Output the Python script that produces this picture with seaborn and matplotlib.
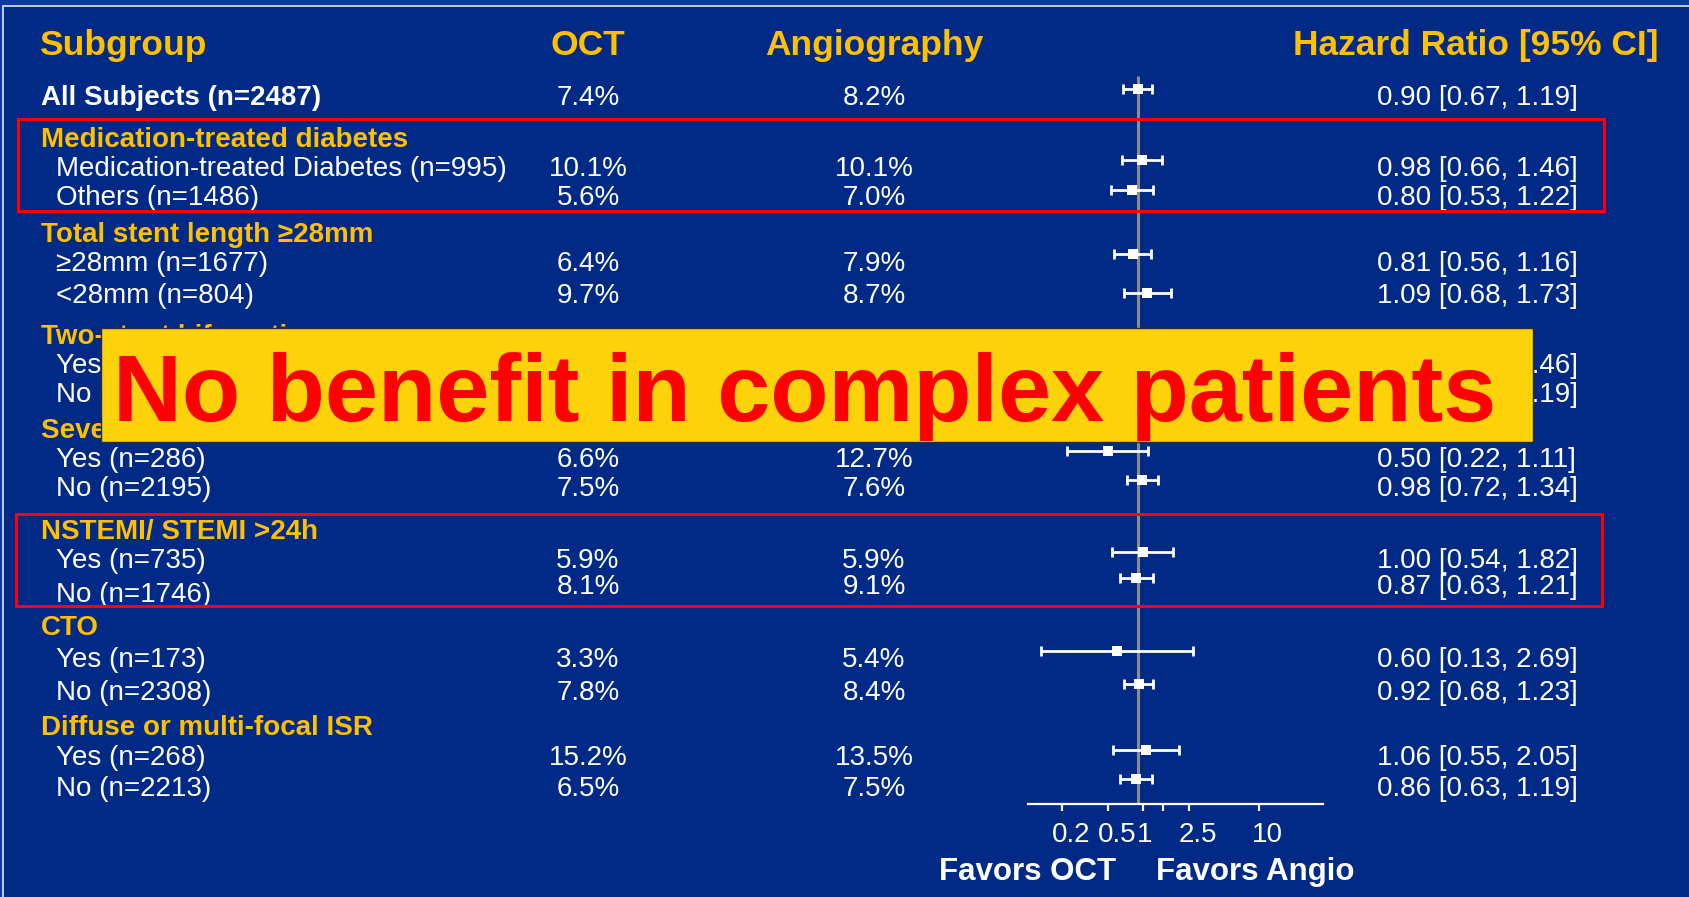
import matplotlib
matplotlib.use("Agg")
import matplotlib.pyplot as plt
from matplotlib.patches import Rectangle
from matplotlib.transforms import ScaledTranslation
import numpy as np
import pandas as pd
import seaborn as sns

# ---- values (two-stent rows are hidden under the banner, estimated) ----
group_names = ["Medication-treated diabetes", "Total stent length \u226528mm", "Two-stent bifurcation",
               "Severe calcification", "NSTEMI/ STEMI >24h", "CTO", "Diffuse or multi-focal ISR"]
row_names = ["All Subjects (n=2487)",
             "Medication-treated Diabetes (n=995)", "Others (n=1486)",
             "\u226528mm (n=1677)", "<28mm (n=804)",
             "Yes (n=236)", "No (n=2245)",
             "Yes (n=286)", "No (n=2195)",
             "Yes (n=735)", "No (n=1746)",
             "Yes (n=173)", "No (n=2308)",
             "Yes (n=268)", "No (n=2213)"]
oct_rate = [7.4, 10.1, 5.6, 6.4, 9.7, 6.9, 7.5, 6.6, 7.5, 5.9, 8.1, 3.3, 7.8, 15.2, 6.5]
angio_rate = [8.2, 10.1, 7.0, 7.9, 8.7, 8.0, 8.2, 12.7, 7.6, 5.9, 9.1, 5.4, 8.4, 13.5, 7.5]
hr = [0.90, 0.98, 0.80, 0.81, 1.09, 0.84, 0.91, 0.50, 0.98, 1.00, 0.87, 0.60, 0.92, 1.06, 0.86]
hr_lo = [0.67, 0.66, 0.53, 0.56, 0.68, 0.48, 0.69, 0.22, 0.72, 0.54, 0.63, 0.13, 0.68, 0.55, 0.63]
hr_hi = [1.19, 1.46, 1.22, 1.16, 1.73, 1.46, 1.19, 1.11, 1.34, 1.82, 1.21, 2.69, 1.23, 2.05, 1.19]
overall_hr = 0.90
x_ticks = [0.2, 0.5, 1, 1.5, 2.5, 10]
x_tick_labels = ["0.2", "0.5", "1", "", "2.5", "10"]

# ---- layout (pixel rows of the slide) ----
W, H = 1690, 897
group_y = [147, 242, 344, 438, 539, 635, 735]
label_y = [105, 176, 205, 271, 303, 373, 402, 467, 496, 568, 602, 667, 700, 765, 796]
value_y = [105, 176, 205, 271, 303, 373, 402, 467, 496, 568, 594, 667, 700, 765, 796]
mark_y = [89, 160, 190, 254, 293, 358, 388, 451, 480, 552, 578, 651, 684, 750, 779]
tick_shift_px = [9, 9, 2, 0, 9, 9]

BG = "#002A86"
GOLD = "#FFC000"

sns.set_theme(style="white")
plt.rcParams["font.family"] = ["Liberation Sans", "DejaVu Sans"]

fig = plt.figure(figsize=(W / 100, H / 100), dpi=100, facecolor="#0A3AA2")

# text layer in pixel coordinates
bg = fig.add_axes([0, 0, 1, 1])
bg.set_xlim(0, W)
bg.set_ylim(H, 0)
bg.axis("off")
bg.add_patch(Rectangle((3.5, 6), W, H, facecolor=BG, edgecolor="#C4CCE0", lw=1.4))

hdr = dict(color=GOLD, fontsize=25.5, fontweight="bold", va="baseline")
bg.text(39, 55, "Subgroup", ha="left", **hdr)
bg.text(588, 55, "OCT", ha="center", **hdr)
bg.text(874, 55, "Angiography", ha="center", **hdr)
bg.text(1476, 55, "Hazard Ratio [95% CI]", ha="center", **hdr)

for name, y in zip(group_names, group_y):
    bg.text(41, y, name, color=GOLD, fontsize=20, fontweight="bold", va="baseline")

for i, name in enumerate(row_names):
    first = i == 0
    bg.text(41 if first else 56, label_y[i], name, color="white", fontsize=20,
            fontweight="bold" if first else "normal", va="baseline")
    bg.text(588, value_y[i], f"{oct_rate[i]:.1f}%", color="white", fontsize=20,
            ha="center", va="baseline")
    bg.text(874, value_y[i], f"{angio_rate[i]:.1f}%", color="white", fontsize=20,
            ha="center", va="baseline")
    bg.text(1377, value_y[i], f"{hr[i]:.2f} [{hr_lo[i]:.2f}, {hr_hi[i]:.2f}]",
            color="white", fontsize=20, ha="left", va="baseline")

# forest panel, log scale, shares the pixel rows
x0, x1, ybot = 1027.7, 1322.7, 804
fa = fig.add_axes([x0 / W, (H - ybot) / H, (x1 - x0) / W, ybot / H])
fa.patch.set_alpha(0)
fa.set_xscale("log")
fa.set_xlim(0.1, 36)
fa.set_ylim(ybot, 0)

df = pd.DataFrame({"hr": hr, "lo": hr_lo, "hi": hr_hi, "y": mark_y})
fa.vlines(overall_hr, 76, ybot, color="#8C8C8C", lw=2.2, zorder=1)
fa.errorbar(df["hr"], df["y"], xerr=[df["hr"] - df["lo"], df["hi"] - df["hr"]],
            fmt="none", ecolor="white", elinewidth=2.0, capsize=3.4, capthick=2.0, zorder=2)
sns.scatterplot(data=df, x="hr", y="y", marker="s", s=55, color="white",
                edgecolor="white", linewidth=0, ax=fa, legend=False, zorder=3)

for s in ["top", "left", "right"]:
    fa.spines[s].set_visible(False)
fa.spines["bottom"].set_color("white")
fa.spines["bottom"].set_linewidth(1.6)
fa.set_xticks(x_ticks)
fa.set_xticklabels(x_tick_labels)
fa.xaxis.set_minor_locator(matplotlib.ticker.NullLocator())
fa.tick_params(axis="x", colors="white", labelsize=20, length=4.8, width=1.6,
               direction="out", pad=8, bottom=True)
fa.set_yticks([])
fa.set_xlabel("")
fa.set_ylabel("")
for lab, dx in zip(fa.get_xticklabels(), tick_shift_px):
    lab.set_transform(lab.get_transform() + ScaledTranslation(dx / 100, 0, fig.dpi_scale_trans))

# overlay: favours labels, red boxes, banner
top = fig.add_axes([0, 0, 1, 1])
top.set_xlim(0, W)
top.set_ylim(H, 0)
top.axis("off")
top.patch.set_alpha(0)
top.text(1116, 880, "Favors OCT", color="white", fontsize=22.5, fontweight="bold",
         ha="right", va="baseline")
top.text(1156, 880, "Favors Angio", color="white", fontsize=22.5, fontweight="bold",
         ha="left", va="baseline")
top.add_patch(Rectangle((18, 119), 1586, 92, fill=False, edgecolor="#FF0000", lw=2.2))
top.add_patch(Rectangle((16, 514), 1586, 92, fill=False, edgecolor="#FF0000", lw=2.2))
top.add_patch(Rectangle((101, 328), 1432, 114, facecolor="#FCD20B",
                        edgecolor="#2A2A3A", lw=1.0, zorder=5))
top.text(805, 421, "No benefit in complex patients", color="#FF0000", fontsize=68.7,
         fontweight="bold", ha="center", va="baseline", zorder=6)

fig.savefig("out.png", dpi=100, facecolor=fig.get_facecolor())
